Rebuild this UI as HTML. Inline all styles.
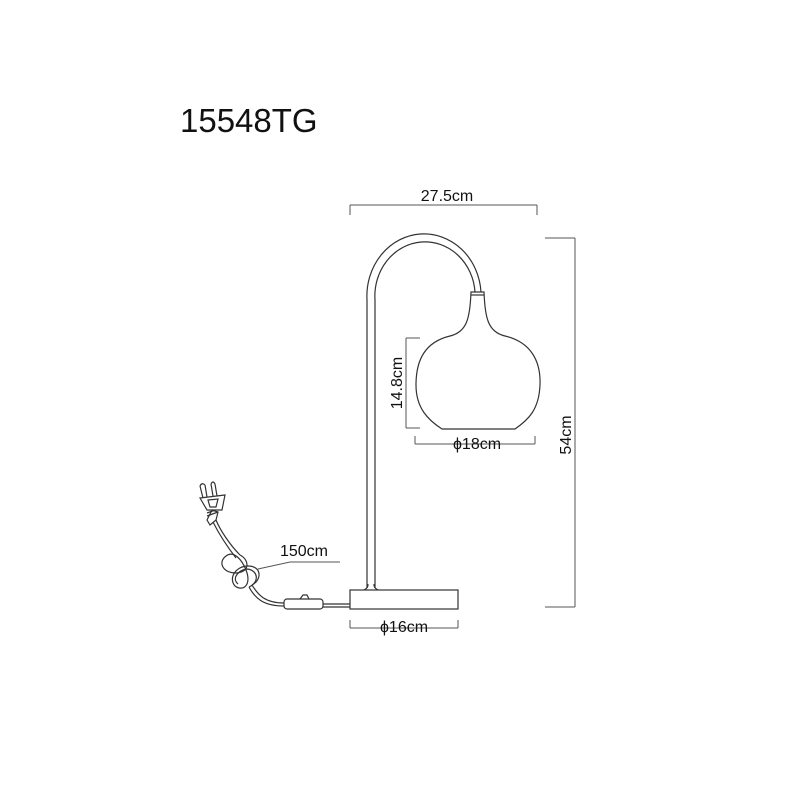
<!DOCTYPE html>
<html><head><meta charset="utf-8"><style>
html,body{margin:0;padding:0;background:#fff}
svg{display:block}
text{font-family:"Liberation Sans",sans-serif;fill:#111}
</style></head><body>
<svg width="800" height="800" viewBox="0 0 800 800" xmlns="http://www.w3.org/2000/svg">
<text x="180" y="132" font-size="33">15548TG</text>
<g stroke="#555" stroke-width="1" fill="none">
<path d="M350 205H537M350 205V215M537 205V215"/>
<path d="M575 238V607M545 238H575M545 607H575"/>
<path d="M406 338V428M406 338H420M406 428H420"/>
<path d="M415 444H535M415 444V436M535 444V436"/>
<path d="M350 628H458M350 628V620M458 628V620"/>
<path d="M340 562H290L258 569"/>
</g>
<g stroke="#333" stroke-width="1.2" fill="none">
<path d="M367 588V300A57 62 0 0 1 481 292"/>
<path d="M375 588V300A50 54 0 0 1 475 292"/>
<path d="M471 292H484C485 318 488 332 505 336C530 342 541 360 540 385C539 410 528 420 515 429H442C428 420 416 408 416 385C416 360 425 342 450 336C467 332 470 318 471 292Z" fill="#fff"/>
<path d="M471 295H484"/>
<rect x="350" y="590" width="108" height="19" fill="#fff"/>
<path d="M364 590C368 588 368 586 368 584M378 590C374 588 374 586 374 584"/>
<path d="M350 604H323M350 607H323"/>
<rect x="284" y="599" width="39" height="10" rx="3" fill="#fff"/>
<path d="M300 599L303 595H307L309 599"/>
<path d="M284 603C265 603 258 595 252 585M284 606C263 606 255 598 249 587"/>
<path d="M252 585C262 580 262 566 248 566C236 566 228 578 235 586C243 592 252 585 246 570C242 560 234 550 226 556C218 562 222 572 235 573C250 573 250 560 240 555"/>
<path d="M249 587C260 582 258 570 247 569C239 570 231 578 238 584"/>
<path d="M240 555C230 545 220 530 216 520M236 558C226 545 218 532 213 522"/>
<path d="M210 525L216 520L218 512L212 510L207 520Z"/>
<path d="M207 513L218 509M207 516L218 512"/>
<path d="M200 498L225 495L222 510L207 510Z" fill="#fff"/>
<path d="M208 500L218 499L216 507L210 507Z"/>
<path d="M203 498L200 486M207 497L205 485M213 496L211 484M217 496L215 484"/>
<path d="M200 486Q202 482 205 485M211 484Q213 480 215 484"/>
</g>
<text x="447" y="201" font-size="16" text-anchor="middle">27.5cm</text>
<text x="477" y="449" font-size="16" text-anchor="middle">ϕ18cm</text>
<text x="404" y="632" font-size="16" text-anchor="middle">ϕ16cm</text>
<text x="304" y="556" font-size="16" text-anchor="middle">150cm</text>
<text transform="translate(402 383) rotate(-90)" font-size="16" text-anchor="middle">14.8cm</text>
<text transform="translate(571 435) rotate(-90)" font-size="16" text-anchor="middle">54cm</text>
</svg>
</body></html>
